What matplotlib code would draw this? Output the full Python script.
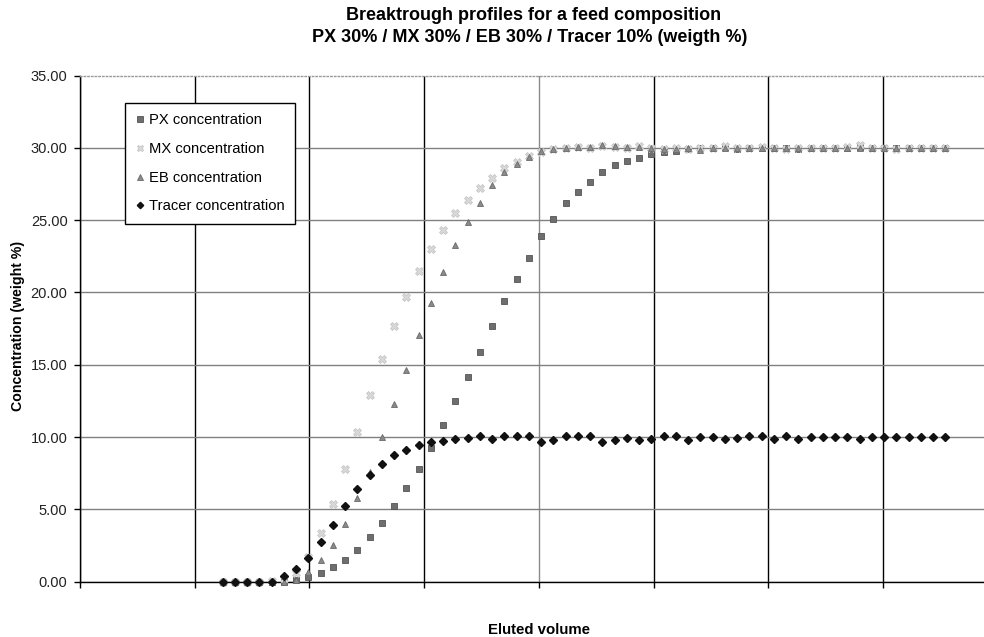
import numpy as np
import matplotlib
matplotlib.use('Agg')
import matplotlib.pyplot as plt

plt.rcParams['font.family'] = 'sans-serif'
plt.rcParams['font.sans-serif'] = ['Liberation Sans', 'DejaVu Sans']

# Concentrations (weight %), one value per sample
px = [0, 0, 0, 0, 0, 0, 0.12, 0.35, 0.6, 1.0,
      1.5, 2.2, 3.1, 4.05, 5.25, 6.45, 7.8, 9.25, 10.85, 12.5,
      14.15, 15.9, 17.65, 19.4, 20.95, 22.4, 23.9, 25.1, 26.15, 26.95,
      27.65, 28.35, 28.8, 29.1, 29.3, 29.55, 29.7, 29.8, 29.95, 30.0,
      30.0, 30.05, 29.95, 30.0, 30.0, 30.0, 30.0, 29.95, 30.0, 30.0,
      30.0, 30.0, 30.05, 30.0, 30.0, 30.0, 30.0, 30.0, 30.0, 30.0]
mx = [0, 0, 0, 0, 0.05, 0.2, 0.6, 1.7, 3.4, 5.35,
      7.8, 10.35, 12.9, 15.4, 17.65, 19.7, 21.5, 23.0, 24.35, 25.5,
      26.4, 27.2, 27.9, 28.6, 29.0, 29.4, 29.7, 29.9, 30.0, 30.05,
      30.0, 30.15, 30.05, 30.0, 30.1, 30.0, 29.95, 30.0, 29.9, 30.0,
      30.0, 30.15, 30.0, 30.0, 30.05, 30.0, 29.95, 30.0, 30.0, 30.0,
      30.0, 30.05, 30.2, 30.0, 30.0, 29.95, 30.0, 30.0, 30.0, 30.0]
eb = [0, 0, 0, 0, 0, 0, 0.15, 0.7, 1.5, 2.55,
      3.97, 5.8, 7.6, 10.0, 12.3, 14.65, 17.05, 19.25, 21.4, 23.25,
      24.85, 26.2, 27.4, 28.35, 28.9, 29.35, 29.8, 29.9, 30.0, 30.05,
      30.05, 30.2, 30.1, 30.05, 30.05, 30.0, 29.95, 29.95, 30.0, 29.85,
      30.0, 30.0, 30.0, 30.0, 30.0, 30.0, 30.0, 30.0, 30.0, 30.0,
      30.0, 30.0, 30.0, 30.0, 30.0, 30.0, 30.0, 30.0, 30.0, 30.0]
tracer = [0, 0, 0, 0, 0, 0.39, 0.85, 1.66, 2.75, 3.93,
          5.24, 6.42, 7.39, 8.15, 8.78, 9.1, 9.47, 9.65, 9.7, 9.84,
          9.93, 10.05, 9.86, 10.05, 10.05, 10.05, 9.65, 9.82, 10.05, 10.05,
          10.05, 9.68, 9.82, 9.95, 9.82, 9.86, 10.05, 10.05, 9.8, 10.0,
          10.0, 9.85, 9.95, 10.05, 10.05, 9.85, 10.1, 9.85, 10.0, 10.0,
          10.0, 10.0, 9.85, 10.0, 10.0, 10.0, 10.0, 10.0, 10.0, 10.0]

# Eluted volume (arbitrary units, grid spacing = 1), samples evenly spaced
v_start = 1.244
v_step = 0.1068
volume = v_start + v_step * np.arange(len(px))

fig = plt.figure(figsize=(9.84, 6.37), dpi=100)
ax = fig.add_axes([80 / 984, (637 - 581.7) / 637, 904 / 984, (581.7 - 75.5) / 637])

ax.plot(volume, px, linestyle='none', marker='s', ms=4.3, mfc='#6e6e6e', mec='#555555',
        mew=0.6, clip_on=False, label='PX concentration', zorder=3)
ax.plot(volume, mx, linestyle='none', marker='X', ms=5.5, mfc='#d8d8d8', mec='#c2c2c2',
        mew=0.5, clip_on=False, label='MX concentration', zorder=3)
ax.plot(volume, eb, linestyle='none', marker='^', ms=5, mfc='#8a8a8a', mec='#6a6a6a',
        mew=0.6, clip_on=False, label='EB concentration', zorder=3)
ax.plot(volume, tracer, linestyle='none', marker='D', ms=3.8, mfc='#111111', mec='#111111',
        clip_on=False, label='Tracer concentration', zorder=4)

ax.set_xlim(0, 904 / 114.7)
ax.set_ylim(0, 35)

ax.set_xticks(np.arange(0, 8))
ax.set_xticklabels([])
ax.set_yticks(np.arange(0, 36, 5))
ax.set_yticklabels(['%.2f' % t for t in np.arange(0, 36, 5)], fontsize=10.5, color='#222222')
ax.tick_params(axis='both', direction='out', length=4, width=1, color='black', pad=5)

ax.set_axisbelow(True)
ax.grid(axis='x', color='black', linewidth=1)
ax.grid(axis='y', color='#808080', linewidth=1)
ax.get_xgridlines()[4].set_color('#8a8a8a')
ax.get_ygridlines()[-1].set_visible(False)

ax.spines['right'].set_visible(False)
ax.spines['top'].set_color('#999999')
ax.spines['top'].set_linestyle(':')
ax.spines['top'].set_linewidth(1)
ax.spines['left'].set_color('black')
ax.spines['bottom'].set_color('black')
ax.spines['left'].set_linewidth(1)
ax.spines['bottom'].set_linewidth(1)

leg = ax.legend(loc='upper left', bbox_to_anchor=(45 / 904, 1 - 27.5 / 506.2),
                borderaxespad=0, fontsize=10.6, frameon=True, fancybox=False,
                framealpha=1, edgecolor='black', handlelength=0.6, handletextpad=0.35,
                labelspacing=1.0, borderpad=0.7, markerscale=0.85)
leg.get_frame().set_linewidth(1)

fig.text(534 / 984, 1 - 15 / 637, 'Breaktrough profiles for a feed composition',
         ha='center', va='center', fontsize=13, fontweight='bold')
fig.text(530 / 984, 1 - 38 / 637, 'PX 30% / MX 30% / EB 30% / Tracer 10% (weigth %)',
         ha='center', va='center', fontsize=13, fontweight='bold')
fig.text(539 / 984, 1 - 630 / 637, 'Eluted volume', ha='center', va='center',
         fontsize=10.8, fontweight='bold')
fig.text(18 / 984, 1 - 326 / 637, 'Concentration (weight %)', ha='center', va='center',
         rotation=90, fontsize=10.2, fontweight='bold')

fig.savefig('out.png', dpi=100, facecolor='white')
